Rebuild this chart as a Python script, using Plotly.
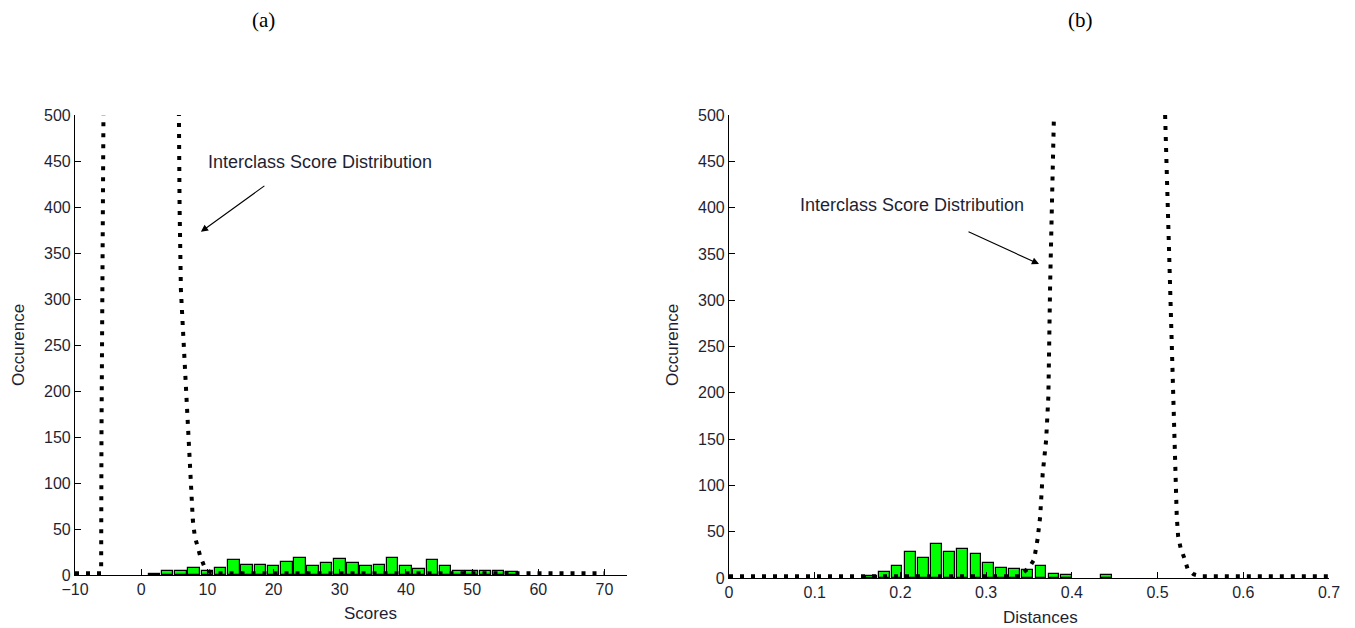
import plotly.graph_objects as go

# page is 1355x628; the body margin is removed after load so the figure fills the page
W, H = 1355, 628

# ---------------- data: panel (a) ----------------
score_bins = [2, 4, 6, 8, 10, 12, 14, 16, 18, 20, 22, 24, 26, 28, 30, 32, 34, 36, 38, 40,
              42, 44, 46, 48, 50, 52, 54, 56]
score_counts = [1, 4, 4, 8, 4, 8, 16, 11, 11, 10, 14, 19, 10, 13, 17, 13, 10, 11, 19, 10,
                7, 16, 10, 4, 4, 4, 4, 3]

inter_a_x = [-10, -9, -8, -7, -6.05, -6.0, -5.85, -5.7, -5.5, 0, 5.4, 5.6, 5.8, 6.0, 6.5,
             7.0, 7.5, 7.8, 8.1, 8.5, 8.9, 9.5, 10.2, 11, 20, 30, 40, 50, 60, 70]
inter_a_y = [2, 2, 2, 2, 2, 150, 300, 500, 800, 3000, 800, 500, 400, 310, 245,
             175, 100, 60, 42, 31, 21, 10, 4, 2, 2, 2, 2, 2, 2, 2]

# ---------------- data: panel (b) ----------------
dist_bins = [0.166, 0.181, 0.196, 0.212, 0.227, 0.242, 0.257, 0.272, 0.288, 0.303,
             0.318, 0.333, 0.348, 0.364, 0.379, 0.394, 0.440]
dist_counts = [2, 7, 13, 28, 22, 37, 28, 31, 26, 16, 11, 10, 9, 13, 4, 3, 3]

inter_b_x = [0, 0.1, 0.2, 0.3, 0.34, 0.342, 0.350, 0.356, 0.360, 0.363, 0.366, 0.370,
             0.3726, 0.3746, 0.3757, 0.377, 0.44, 0.507, 0.5088, 0.5146, 0.5177, 0.520,
             0.5224, 0.524, 0.527, 0.531, 0.535, 0.542, 0.55, 0.6, 0.7]
inter_b_y = [2, 2, 2, 2, 2, 5, 11, 20, 42, 66, 113, 149,
             196, 315, 495, 700, 3000, 700, 500, 315, 200, 142,
             66, 45, 32, 22, 10, 4, 2, 2, 2]

x_ticks_a = [-10, 0, 10, 20, 30, 40, 50, 60, 70]
x_ticks_b = [0, 0.1, 0.2, 0.3, 0.4, 0.5, 0.6, 0.7]
y_ticks = [0, 50, 100, 150, 200, 250, 300, 350, 400, 450, 500]

FONT = "Liberation Sans, Arial, sans-serif"
TXT = "#1f1f33"
GREEN = "#00ff00"


def fx(px):
    return px / W


def fy(py):
    return 1 - py / H


fig = go.Figure()

fig.add_trace(go.Bar(x=score_bins, y=score_counts, width=1.75,
                     marker=dict(color=GREEN, line=dict(color="black", width=1.2)),
                     xaxis="x", yaxis="y", showlegend=False))
fig.add_trace(go.Scatter(x=inter_a_x, y=inter_a_y, mode="lines",
                         line=dict(color="black", width=4, dash="4px,7px"),
                         xaxis="x", yaxis="y", showlegend=False))

fig.add_trace(go.Bar(x=dist_bins, y=dist_counts, width=0.0125,
                     marker=dict(color=GREEN, line=dict(color="black", width=1.2)),
                     xaxis="x2", yaxis="y2", showlegend=False))
fig.add_trace(go.Scatter(x=inter_b_x, y=inter_b_y, mode="lines",
                         line=dict(color="black", width=4, dash="4px,7px"),
                         xaxis="x2", yaxis="y2", showlegend=False))

axis_common = dict(showgrid=False, zeroline=False, showline=True, linecolor="black",
                   linewidth=1.2, ticks="inside", ticklen=6, tickcolor="black",
                   tickfont=dict(family=FONT, size=16, color=TXT), mirror=False,
                   automargin=False)

fig.update_layout(
    width=W, height=H,
    margin=dict(l=0, r=0, t=0, b=0, autoexpand=False),
    paper_bgcolor="white", plot_bgcolor="white",
    bargap=0,
    xaxis=dict(domain=[fx(75), fx(627)], range=[-10, 73.4], tickvals=x_ticks_a,
               anchor="y", **axis_common),
    yaxis=dict(domain=[fy(575), fy(115)], range=[0, 500], tickvals=y_ticks,
               anchor="x", **axis_common),
    xaxis2=dict(domain=[fx(729), fx(1329)], range=[0, 0.7], tickvals=x_ticks_b,
                anchor="y2", **axis_common),
    yaxis2=dict(domain=[fy(578), fy(115)], range=[0, 500], tickvals=y_ticks,
                anchor="x2", **axis_common),
)

anns = []
# panel titles
for label, cx in [("(a)", 263), ("(b)", 1080)]:
    anns.append(dict(text=label, x=fx(cx), y=fy(20), xref="paper", yref="paper",
                     showarrow=False, xanchor="center", yanchor="middle",
                     font=dict(family="Liberation Serif, Times New Roman, serif", size=21,
                               color="black")))
# axis titles
for label, cx, cy in [("Scores", 370, 613), ("Distances", 1040, 617)]:
    anns.append(dict(text=label, x=fx(cx), y=fy(cy), xref="paper", yref="paper",
                     showarrow=False, xanchor="center", yanchor="middle",
                     font=dict(family=FONT, size=17, color=TXT)))
for cx in [18, 672]:
    anns.append(dict(text="Occurence", x=fx(cx), y=fy(345), xref="paper", yref="paper",
                     showarrow=False, textangle=-90, xanchor="center", yanchor="middle",
                     font=dict(family=FONT, size=17, color=TXT)))
# callout texts
for cx, cy in [(320, 162), (912, 205)]:
    anns.append(dict(text="Interclass Score Distribution", x=fx(cx), y=fy(cy),
                     xref="paper", yref="paper", showarrow=False, xanchor="center",
                     yanchor="middle", font=dict(family=FONT, size=18, color=TXT)))
# arrows
anns.append(dict(text="", x=9.02, y=373, xref="x", yref="y", ax=65, ay=-47,
                 showarrow=True, arrowhead=2, arrowsize=1.3, arrowwidth=1.1,
                 arrowcolor="black"))
anns.append(dict(text="", x=0.3617, y=339, xref="x2", yref="y2", ax=-72, ay=-33,
                 showarrow=True, arrowhead=2, arrowsize=1.3, arrowwidth=1.1,
                 arrowcolor="black"))
fig.update_layout(annotations=anns)

fig.write_html(
    "out.html",
    config={"displayModeBar": False},
    post_script="document.body.style.margin='0';document.body.style.overflow='hidden';",
)
